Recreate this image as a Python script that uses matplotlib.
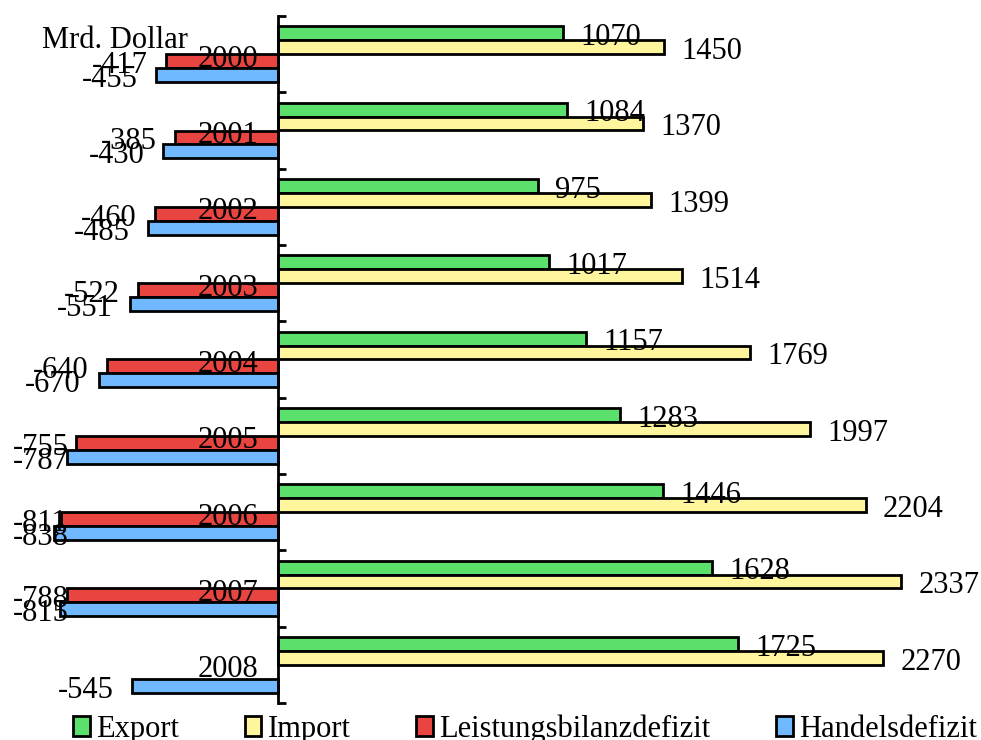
import numpy as np
import matplotlib
matplotlib.use("Agg")
import matplotlib.pyplot as plt
from matplotlib.patches import Patch

years = ["2000", "2001", "2002", "2003", "2004", "2005", "2006", "2007", "2008"]
export = [1070, 1084, 975, 1017, 1157, 1283, 1446, 1628, 1725]
imports = [1450, 1370, 1399, 1514, 1769, 1997, 2204, 2337, 2270]
leistung = [-417, -385, -460, -522, -640, -755, -811, -788, np.nan]
handel = [-455, -430, -485, -551, -670, -787, -838, -815, -545]
series_names = ["Export", "Import", "Leistungsbilanzdefizit", "Handelsdefizit"]
colors = ["#5CE06C", "#FFF59D", "#E84540", "#70B8FF"]

plt.rcParams["font.family"] = ["Liberation Serif", "DejaVu Serif"]
FS = 22
DPI = 100

fig = plt.figure(figsize=(9.81, 7.40), dpi=DPI)
ax = fig.add_axes([0, 37 / 740, 1, 687 / 740])

y = np.arange(len(years))
h = 0.183
data = [export, imports, leistung, handel]
offsets = [-1.5 * h, -0.5 * h, 0.5 * h, 1.5 * h]

neg_anns = []
for vals, off, col in zip(data, offsets, colors):
    ax.barh(y + off, vals, height=h, color=col, edgecolor="black",
            linewidth=2.0, zorder=2)
    for yi, v in zip(y, vals):
        if np.isnan(v):
            continue
        if v >= 0:
            ax.annotate(f"{int(v)}", xy=(v, yi + off), xytext=(12.5, -3.2),
                        textcoords="offset points", ha="left", va="center",
                        fontsize=FS, zorder=5)
        else:
            a = ax.annotate(f"{int(v)}", xy=(v, yi + off), xytext=(-13, -3.2),
                            textcoords="offset points", ha="right", va="center",
                            fontsize=FS, zorder=5)
            neg_anns.append(a)

for yi, yr in zip(y, years):
    ax.annotate(yr, xy=(0, yi), xytext=(-14, -3.6), textcoords="offset points",
                ha="right", va="center", fontsize=FS, zorder=5)

ax.set_xlim(-1039.8, 2636)
ax.set_ylim(len(years) - 0.5, -0.5)
for s in ["top", "right", "bottom"]:
    ax.spines[s].set_visible(False)
ax.spines["left"].set_position(("data", 0))
ax.spines["left"].set_linewidth(2)
ax.spines["left"].set_zorder(3)
ax.set_xticks([])
ax.set_yticks(np.arange(-0.5, len(years), 1.0))
ax.set_yticklabels([])
ax.tick_params(axis="y", direction="in", length=6, width=2)

fig.text(42 / 981, 1 - 41 / 740, "Mrd. Dollar", fontsize=FS, ha="left", va="center")

handles = [Patch(facecolor=c, edgecolor="black", linewidth=2) for c in colors]
fig.legend(handles, series_names, loc="center", bbox_to_anchor=(0.535, 1 - 729 / 740),
           ncol=4, frameon=False, fontsize=FS, handlelength=0.55, handleheight=0.6,
           handletextpad=0.2, columnspacing=2.15, borderaxespad=0, borderpad=0)

# keep negative labels inside the chart (as the original does)
fig.canvas.draw()
renderer = fig.canvas.get_renderer()
for a in neg_anns:
    bb = a.get_window_extent(renderer)
    if bb.x0 < 13:
        shift = (13 - bb.x0) * 72.0 / DPI
        dx, dy = a.xyann
        a.xyann = (dx + shift, dy)

fig.savefig("out.png", dpi=DPI)
